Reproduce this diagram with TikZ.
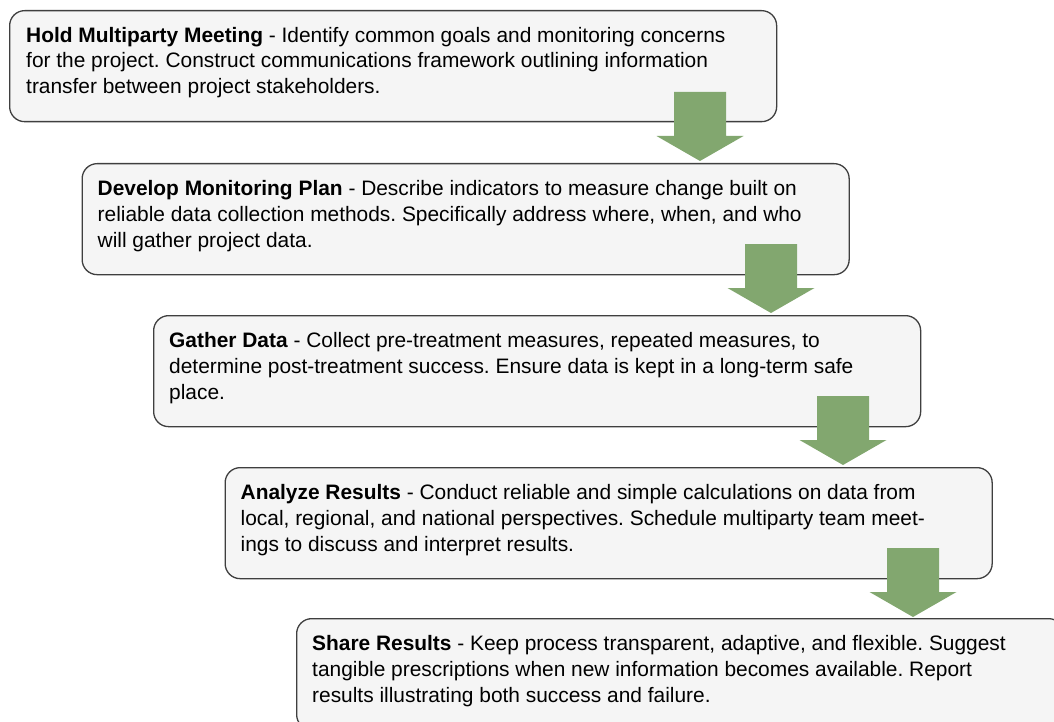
\documentclass[tikz,border=0pt]{standalone}
\usepackage{fontspec}
\setmainfont{Liberation Sans}
\usetikzlibrary{calc}
\frenchspacing
\definecolor{boxfill}{HTML}{F5F5F5}
\definecolor{boxline}{HTML}{3F3F3F}
\definecolor{arrowgreen}{HTML}{82A76F}
\tikzset{
  stepbox/.style={draw=boxline, fill=boxfill, line width=1.3pt, rounded corners=15pt,
    minimum width=767pt, minimum height=111pt, inner sep=0pt, anchor=north west},
  steptext/.style={align=left, inner sep=0pt, anchor=north west,
    font=\fontsize{20.9pt}{25.6pt}\selectfont\frenchspacing},
  bigarrow/.style={fill=arrowgreen, draw=none}
}
\newcommand{\grarrow}[1]{%
  \fill[bigarrow] ($(#1)+(-26,-69)$) -- ($(#1)+(26,-69)$) -- ($(#1)+(26,-25)$)
    -- ($(#1)+(43.5,-25)$) -- (#1) -- ($(#1)+(-43.5,-25)$) -- ($(#1)+(-26,-25)$) -- cycle;}
\begin{document}
\begin{tikzpicture}[x=1pt,y=-1pt]
\useasboundingbox (0,0) rectangle (1054,722);
\clip (0,0) rectangle (1054,722);

\node[stepbox] (b1) at (9,10) {};
\node[stepbox] (b2) at (81.5,163) {};
\node[stepbox] (b3) at (153,315) {};
\node[stepbox] (b4) at (224.5,467) {};
\node[stepbox] (b5) at (296,618) {};

\node[steptext] (t1) at ($(b1.north west)+(17,17)$) {\textbf{Hold Multiparty Meeting} - Identify common goals and monitoring concerns\\for the project. Construct communications framework outlining information\\transfer between project stakeholders.};
\node[steptext] (t2) at ($(b2.north west)+(16,17.5)$) {\textbf{Develop Monitoring Plan} - Describe indicators to measure change built on\\reliable data collection methods. Specifically address where, when, and who\\will gather project data.};
\node[steptext] (t3) at ($(b3.north west)+(16,17.5)$) {\textbf{Gather Data} - Collect pre-treatment measures, repeated measures, to\\determine post-treatment success. Ensure data is kept in a long-term safe\\place.};
\node[steptext] (t4) at ($(b4.north west)+(16,17.5)$) {\textbf{Analyze Results} - Conduct reliable and simple calculations on data from\\local, regional, and national perspectives. Schedule multiparty team meet-\\ings to discuss and interpret results.};
\node[steptext] (t5) at ($(b5.north west)+(16,17.5)$) {\textbf{Share Results} - Keep process transparent, adaptive, and flexible. Suggest\\tangible prescriptions when new information becomes available. Report\\results illustrating both success and failure.};

\coordinate (a1) at (700,161);
\coordinate (a2) at (771,313);
\coordinate (a3) at (843,465);
\coordinate (a4) at (913,617);
\grarrow{a1}
\grarrow{a2}
\grarrow{a3}
\grarrow{a4}
\end{tikzpicture}
\end{document}
